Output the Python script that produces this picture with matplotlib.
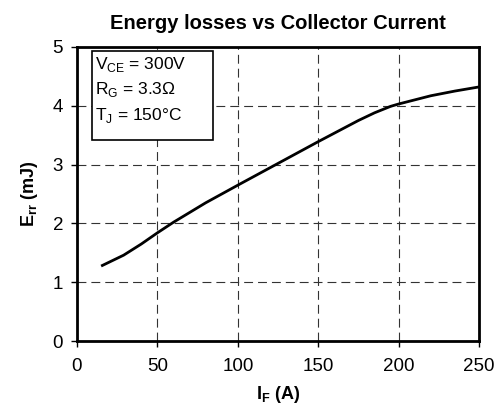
import matplotlib
matplotlib.use("Agg")
import matplotlib.pyplot as plt
from matplotlib.patches import Rectangle

plt.rcParams['font.family'] = ['Liberation Sans', 'DejaVu Sans']
plt.rcParams['mathtext.fontset'] = 'custom'
plt.rcParams['mathtext.rm'] = 'Liberation Sans'
plt.rcParams['mathtext.bf'] = 'Liberation Sans:bold'

current_A = [15, 29, 40, 50, 60, 80, 100, 125, 150, 175, 185, 195, 200, 210, 220, 235, 250]
energy_mJ = [1.275, 1.46, 1.65, 1.84, 2.02, 2.35, 2.65, 3.02, 3.39, 3.75, 3.88, 3.99, 4.03, 4.10, 4.17, 4.25, 4.32]

x_ticks = [0, 50, 100, 150, 200, 250]
y_ticks = [0, 1, 2, 3, 4, 5]

fig = plt.figure(figsize=(4.98, 4.19), dpi=100)
ax = fig.add_axes([0.1546, 0.186, 0.8074, 0.702])

ax.plot(current_A, energy_mJ, color='black', linewidth=2.0, solid_capstyle='butt',
        solid_joinstyle='round')

ax.set_xlim(0, 250)
ax.set_ylim(0, 5)
ax.set_xticks(x_ticks)
ax.set_yticks(y_ticks)
ax.tick_params(direction='out', length=4, width=1, labelsize=13.5)
ax.tick_params(axis='x', pad=8)
ax.tick_params(axis='y', pad=6)
ax.grid(True, color='#333333', linestyle=(0, (8, 4.5)), linewidth=0.8)
for s in ax.spines.values():
    s.set_linewidth(2)

ax.set_title('Energy losses vs Collector Current', fontsize=14.5, fontweight='bold', pad=13)
ax.set_xlabel(r'I$_\mathbf{F}$ (A)', fontsize=13, fontweight='bold', labelpad=7)
ax.set_ylabel(r'E$_\mathbf{rr}$ (mJ)', fontsize=13, fontweight='bold', labelpad=9)

box = Rectangle((9.5, 3.42), 75.3, 1.51, facecolor='white', edgecolor='black',
                linewidth=1.2, zorder=5)
ax.add_patch(box)
txt = 'V$_{\\mathrm{CE}}$ = 300V\nR$_{\\mathrm{G}}$ = 3.3Ω\nT$_{\\mathrm{J}}$ = 150°C'
ax.text(11.0, 4.86, txt, fontsize=12.5, va='top', ha='left', linespacing=1.45, zorder=6)

fig.savefig('out.png', dpi=100)
